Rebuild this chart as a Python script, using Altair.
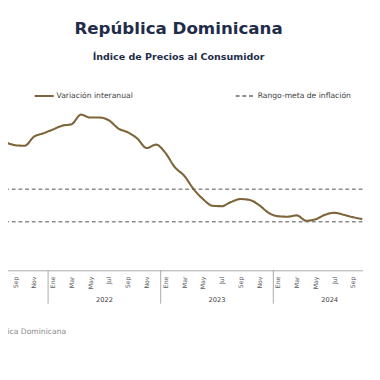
import altair as alt
import pandas as pd

# Month index: 0 = Ene 2022 (series starts Jul 2021)
inicio_mes = -6
inflacion = [7.72, 7.86, 7.72, 7.69, 8.25, 8.46, 8.69, 8.93, 9.02, 9.61,
             9.43, 9.43, 9.25, 8.75, 8.52, 8.14, 7.55, 7.76, 7.25, 6.37,
             5.84, 5.02, 4.40, 3.99, 3.96, 4.22, 4.40, 4.34, 4.02, 3.55,
             3.34, 3.31, 3.39, 3.06, 3.15, 3.43, 3.55, 3.43, 3.28, 3.16]
meta_rango = [3, 5]
anios = ["2022", "2023", "2024"]
anios_centro = [5.5, 17.5, 29.5]
separadores = [-0.5, 11.5, 23.5]
etiquetas_mes = list(range(-4, 33, 2))
nombres_mes = ["Ene", "Feb", "Mar", "Abr", "May", "Jun", "Jul", "Ago", "Sep", "Oct", "Nov", "Dic"]

S1 = "Variación interanual"
S2 = "Rango-meta de inflación"

df_line = pd.DataFrame({"m": [inicio_mes + i for i in range(len(inflacion))],
                        "v": inflacion, "serie": S1})
df_meta = pd.DataFrame({"v": meta_rango, "serie": S2})
df_anios = pd.DataFrame({"m": anios_centro, "t": anios})
df_sep = pd.DataFrame({"m": separadores})
df_fuente = pd.DataFrame({"t": ["Fuente: Banco Central de la República Dominicana"]})

FONT = "DejaVu Sans"
names_js = "[" + ",".join("'" + n + "'" for n in nombres_mes) + "]"
xscale = alt.Scale(domain=[-5.584, 33.0], nice=False, zero=False)
xaxis = alt.Axis(values=etiquetas_mes, labelExpr=names_js + "[((datum.value % 12) + 12) % 12]",
                 labelAngle=270, labelAlign="right", labelBaseline="middle",
                 ticks=False, grid=False, domainColor="#a6a6a6", domainWidth=1,
                 labelColor="#595959", labelFontSize=6.5, labelPadding=6, labelFont=FONT,
                 title=None)
yscale = alt.Scale(domain=[0, 12], nice=False, zero=False)

leg = alt.Legend(title=None, orient="none", legendX=35, legendY=10,
                 direction="horizontal", symbolType="stroke",
                 symbolSize=400, symbolStrokeWidth=2, labelOffset=2,
                 columnPadding=103, labelFontSize=8, labelFont=FONT,
                 labelColor="#404040")
color = alt.Color("serie:N", scale=alt.Scale(domain=[S1, S2], range=["#7d6539", "#8c8c8c"]),
                  legend=leg)
dash = alt.StrokeDash("serie:N", scale=alt.Scale(domain=[S1, S2], range=[[1, 0], [4, 3]]),
                      legend=leg)

meta = alt.Chart(df_meta).mark_rule(strokeWidth=1.5).encode(
    y=alt.Y("v:Q", scale=yscale, axis=None), color=color, strokeDash=dash)

linea = alt.Chart(df_line).mark_line(strokeWidth=2.2, interpolate="monotone", clip=True).encode(
    x=alt.X("m:Q", scale=xscale, axis=xaxis),
    y=alt.Y("v:Q", scale=yscale, axis=None), color=color, strokeDash=dash)

sep = alt.Chart(df_sep).mark_rule(color="#a6a6a6", strokeWidth=1).encode(
    x=alt.X("m:Q", scale=xscale, axis=xaxis), y=alt.value(204), y2=alt.value(239))

anio_txt = alt.Chart(df_anios).mark_text(fontSize=7, font=FONT, color="#404040", baseline="alphabetic").encode(
    x=alt.X("m:Q", scale=xscale, axis=xaxis), y=alt.value(237), text="t:N")

fuente = alt.Chart(df_fuente).mark_text(fontSize=8, font=FONT, color="#8a8a8a", align="right",
                                        baseline="alphabetic").encode(
    x=alt.value(69), y=alt.value(271), text="t:N")

chart = alt.layer(meta, linea, sep, anio_txt, fuente).properties(
    width=380, height=204,
    autosize=alt.AutoSizeParams(type="none"),
    padding={"left": -8, "top": 62, "right": 10, "bottom": 110},
    title=alt.TitleParams(text="República Dominicana", subtitle="Índice de Precios al Consumidor",
                          anchor="middle", font=FONT, fontSize=17.5, fontWeight="bold",
                          color="#1f2d4a", subtitleFont=FONT, subtitleFontSize=10,
                          subtitleFontWeight="bold", subtitleColor="#1f2d4a",
                          subtitlePadding=15, offset=15, dx=-3)
).configure_view(stroke=None)

chart.save("out.html", embed_options={"renderer": "svg", "actions": False})
